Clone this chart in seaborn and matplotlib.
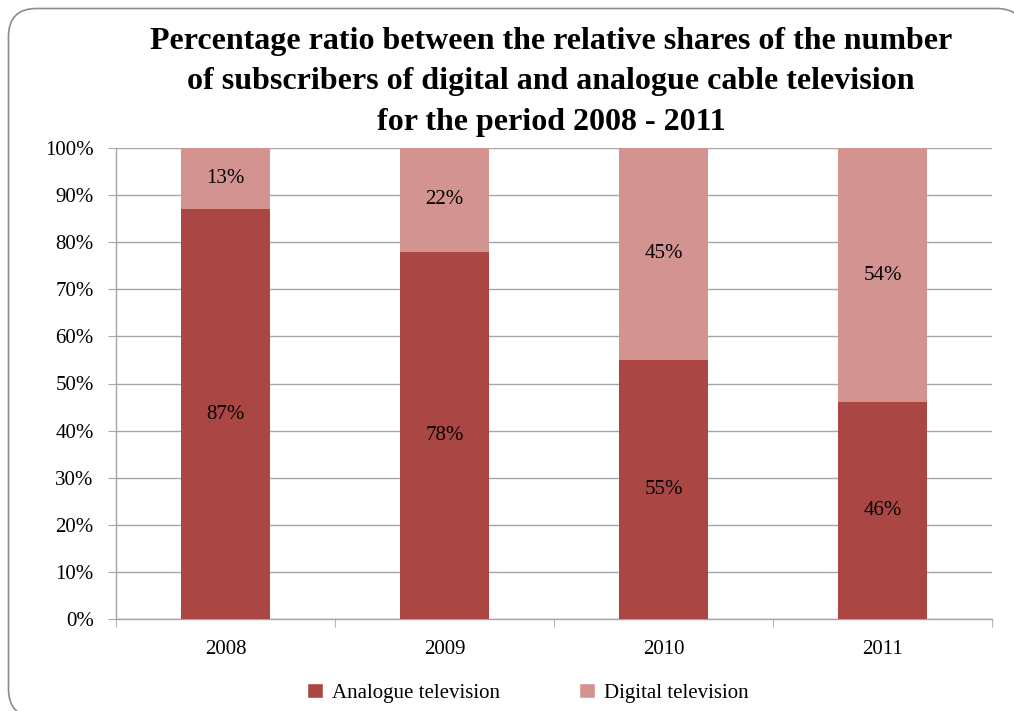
import matplotlib
matplotlib.use("Agg")
import matplotlib.pyplot as plt
from matplotlib.patches import FancyBboxPatch, Patch
from matplotlib.ticker import FixedLocator
from matplotlib.transforms import IdentityTransform
import seaborn as sns
import pandas as pd

years = ["2008", "2009", "2010", "2011"]
analogue = [87, 78, 55, 46]
digital = [13, 22, 45, 54]
series_names = ["Analogue television", "Digital television"]
title = ("Percentage ratio between the relative shares of the number\n"
         "of subscribers of digital and analogue cable television\n"
         "for the period 2008 - 2011")

c_analogue = "#AA4744"
c_digital = "#D29391"
grid_c = "#A6A6A6"

sns.set_style("white")
plt.rcParams["font.family"] = ["Liberation Serif", "DejaVu Serif"]
plt.rcParams["text.color"] = "black"
plt.rcParams["xtick.labelcolor"] = "black"
plt.rcParams["ytick.labelcolor"] = "black"

df = pd.DataFrame({"year": years, "analogue": analogue, "digital": digital})
df["total"] = df["analogue"] + df["digital"]

fig = plt.figure(figsize=(10.14, 7.11), dpi=100)
ax = fig.add_axes([116 / 1014, 1 - 619 / 711, (992 - 116) / 1014, (619 - 148) / 711])

# rounded frame around the chart area (display pixels, origin bottom-left);
# filled white so the renderer keeps the curved corners intact at the edges
frame = FancyBboxPatch((8.5, -6), 1016, 711 - 8.5 + 6,
                       boxstyle="round,pad=0,rounding_size=28",
                       transform=IdentityTransform(), facecolor="white",
                       edgecolor="#8C8C8C", linewidth=1.2, zorder=-10)
fig.patches.append(frame)

# stacked bars: full column in the digital colour, analogue share over it
sns.barplot(data=df, x="year", y="total", color=c_digital, width=0.41,
            saturation=1, ax=ax, zorder=3, edgecolor="none")
sns.barplot(data=df, x="year", y="analogue", color=c_analogue, width=0.41,
            saturation=1, ax=ax, zorder=4, edgecolor="none")

for i, (a, d) in enumerate(zip(analogue, digital)):
    ax.text(i, a / 2, f"{a}%", ha="center", va="center", fontsize=15, zorder=5)
    ax.text(i, a + d / 2, f"{d}%", ha="center", va="center", fontsize=15, zorder=5)

ax.set_ylim(0, 100)
ax.set_xlim(-0.5, 3.5)
ax.set_yticks(range(0, 101, 10))
ax.set_yticklabels([f"{v}%" for v in range(0, 101, 10)], fontsize=15)
ax.set_xticks(range(len(years)))
ax.set_xticklabels(years, fontsize=15)
ax.xaxis.set_minor_locator(FixedLocator([-0.5, 0.5, 1.5, 2.5, 3.5]))
ax.tick_params(axis="x", which="major", length=0, pad=15)
ax.tick_params(axis="x", which="minor", length=6, color=grid_c, direction="out", bottom=True)
ax.tick_params(axis="y", length=6, color=grid_c, direction="out", left=True, pad=10)
ax.yaxis.grid(True, color=grid_c, linewidth=1)
ax.set_axisbelow(True)
ax.patch.set_alpha(0)
for s in ["top", "right"]:
    ax.spines[s].set_visible(False)
for s in ["left", "bottom"]:
    ax.spines[s].set_color(grid_c)
    ax.spines[s].set_linewidth(1)
ax.set_xlabel("")
ax.set_ylabel("")

fig.text(551 / 1014, 1 - 82 / 711, title, ha="center", va="center",
         fontsize=23, fontweight="bold", linespacing=1.53)

handles = [Patch(facecolor=c_analogue), Patch(facecolor=c_digital)]
fig.legend(handles, series_names, loc="center", bbox_to_anchor=(528 / 1014, 1 - 693 / 711),
           ncol=2, frameon=False, fontsize=15, handlelength=0.75, handleheight=0.75,
           handletextpad=0.45, columnspacing=3.8)

fig.savefig("out.png", dpi=100)
